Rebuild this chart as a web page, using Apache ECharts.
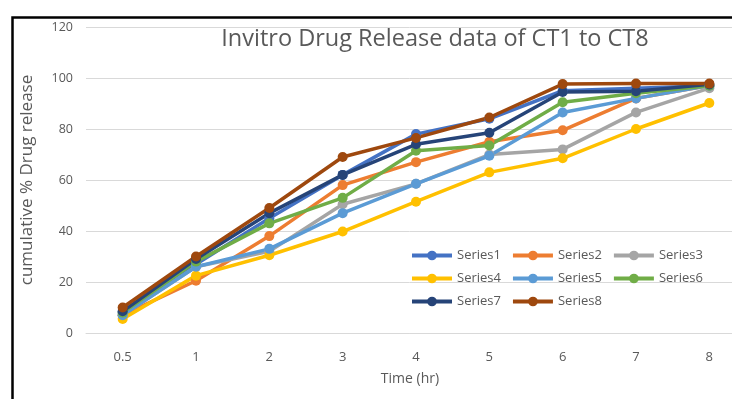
<!DOCTYPE html>
<html>
<head>
<meta charset="utf-8">
<script src="https://cdn.jsdelivr.net/npm/echarts@6/dist/echarts.min.js"></script>
<style>html,body{margin:0;padding:0;background:#fff}#c{width:732px;height:399px}</style>
</head>
<body>
<div id="c"></div>
<script>
var categories = ['0.5', '1', '2', '3', '4', '5', '6', '7', '8'];
var seriesNames = ['Series1', 'Series2', 'Series3', 'Series4', 'Series5', 'Series6', 'Series7', 'Series8'];
var colors = ['#4472C4', '#ED7D31', '#A5A5A5', '#FFC000', '#5B9BD5', '#70AD47', '#264478', '#9E480E'];
var series1 = [8, 27, 45, 62, 78, 84, 95, 96, 97];
var series2 = [7, 20.5, 38, 58, 67, 75, 79.5, 92, 97];
var series3 = [7, 26, 32, 50.5, 58.5, 70, 72, 86.5, 96];
var series4 = [5.5, 22.5, 30.5, 39.8, 51.5, 63, 68.5, 80, 90.2];
var series5 = [7, 26, 33, 47, 58.5, 69.5, 86.5, 92, 97];
var series6 = [8, 28, 43, 53, 71.5, 73.5, 90.5, 94, 97];
var series7 = [8.5, 29, 47, 62, 74, 78.5, 94.5, 94.8, 97.5];
var series8 = [10, 30, 49, 69, 76.5, 84.5, 97.6, 97.8, 97.8];
var allData = [series1, series2, series3, series4, series5, series6, series7, series8];
var yTicks = {min: 0, max: 120, interval: 20};

var chart = echarts.init(document.getElementById('c'));
var textColor = '#595959';
var font = '"Open Sans", "Liberation Sans", sans-serif';
chart.setOption({
  animation: false,
  backgroundColor: '#fff',
  color: colors,
  title: {
    text: 'Invitro Drug Release data of CT1 to CT8',
    left: 430, top: 22, textAlign: 'center',
    textStyle: {color: textColor, fontSize: 23.5, fontWeight: 'normal', fontFamily: font}
  },
  graphic: [{
    type: 'rect', left: 10, top: 15, z: 100, silent: true,
    shape: {width: 740, height: 400},
    style: {fill: 'none', stroke: '#000', lineWidth: 2.5}
  }],
  legend: {
    data: seriesNames,
    left: 405, top: 244, width: 320,
    itemWidth: 40, itemHeight: 12, itemGap: 10,
    lineStyle: {width: 4},
    textStyle: {color: textColor, fontSize: 13, fontFamily: font, width: 50}
  },
  grid: {left: 86, top: 27, width: 660, height: 306, outerBoundsMode: 'none', containLabel: false},
  xAxis: {
    type: 'category', data: categories, boundaryGap: true,
    name: 'Time (hr)', nameLocation: 'middle', nameGap: 39,
    nameTextStyle: {color: textColor, fontSize: 14, fontFamily: font, padding: [0, 12, 0, 0]},
    axisLine: {lineStyle: {color: '#D9D9D9'}},
    axisTick: {show: false},
    axisLabel: {color: textColor, fontSize: 13, margin: 18, fontFamily: font}
  },
  yAxis: {
    type: 'value', min: yTicks.min, max: yTicks.max, interval: yTicks.interval,
    name: 'cumulative % Drug release', nameLocation: 'middle', nameGap: 50,
    nameTextStyle: {color: textColor, fontSize: 17, fontFamily: font},
    axisLine: {show: false}, axisTick: {show: false},
    axisLabel: {color: textColor, fontSize: 12.5, margin: 13, fontFamily: font},
    splitLine: {lineStyle: {color: '#D9D9D9', width: 1}}
  },
  series: seriesNames.map(function (n, i) {
    return {
      name: n, type: 'line', data: allData[i],
      symbol: 'circle', symbolSize: 10,
      lineStyle: {width: 3.5, color: colors[i]},
      itemStyle: {color: colors[i]}
    };
  })
});
</script>
</body>
</html>
